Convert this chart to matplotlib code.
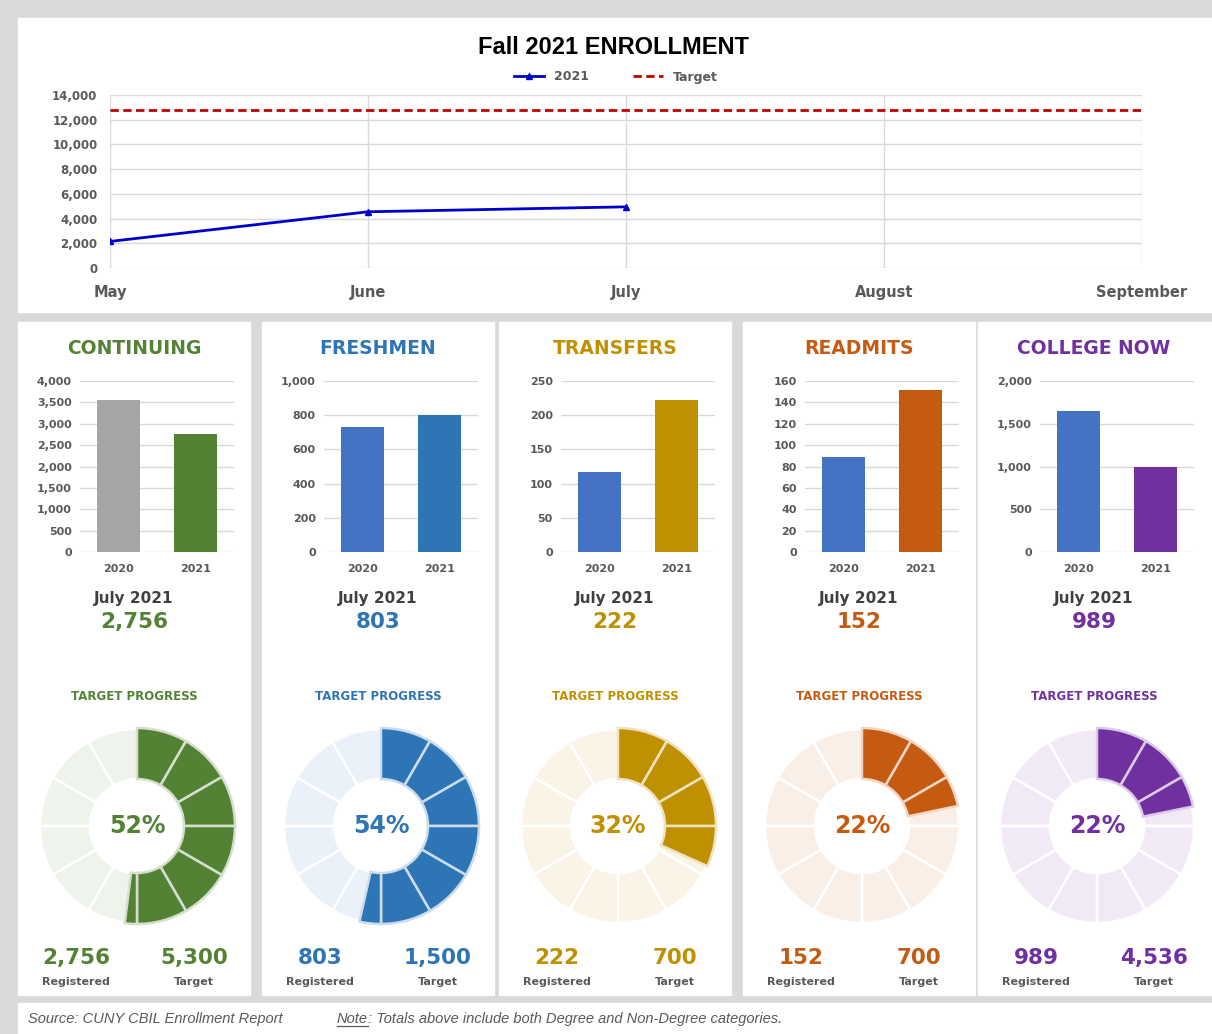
import matplotlib
matplotlib.use("Agg")
import matplotlib.pyplot as plt
import matplotlib.ticker as mticker
from matplotlib.patches import Rectangle
from matplotlib.lines import Line2D
from matplotlib.colors import to_rgb

# ── Data ───────────────────────────────────────────────────────────────────
months = ["May", "June", "July", "August", "September"]
enroll_2021 = [2150, 4550, 4950]
target_line = [12750, 12750, 12750, 12750, 12750]

groups = ["CONTINUING", "FRESHMEN", "TRANSFERS", "READMITS", "COLLEGE NOW"]
years = ["2020", "2021"]
val_2020 = [3560, 730, 117, 89, 1650]
val_2021 = [2756, 803, 222, 152, 989]
registered = [2756, 803, 222, 152, 989]
targets = [5300, 1500, 700, 700, 4536]
y_max = [4000, 1000, 250, 160, 2000]
y_step = [500, 200, 50, 20, 500]

main_col = ["#548235", "#2e75b6", "#bf9000", "#c55a11", "#7030a0"]
col_2020 = ["#a5a5a5", "#4472c4", "#4472c4", "#4472c4", "#4472c4"]

W, H = 1212, 1034
GRAY = "#d9d9d9"
DARK = "#404040"
TICK = "#595959"
SANS = "Liberation Sans"
WIDE = "DejaVu Sans"

fig = plt.figure(figsize=(W / 100, H / 100), dpi=100)
fig.patch.set_facecolor(GRAY)


def fx(px):
    return px / W


def fy(py):
    return 1 - py / H


def faded(c, k=0.1):
    r, g, b = to_rgb(c)
    return (1 - k * (1 - r), 1 - k * (1 - g), 1 - k * (1 - b))


commas = mticker.FuncFormatter(lambda v, _: f"{v:,.0f}")

# ── Background panels ─────────────────────────────────────────────────────
bg = fig.add_axes([0, 0, 1, 1], zorder=0)
bg.set_xlim(0, W)
bg.set_ylim(H, 0)
bg.axis("off")
bg.add_patch(Rectangle((18, 18), W - 18, 294, color="white"))
panel_left = [18, 262, 499, 743, 978]
panel_w = 232
for pl in panel_left:
    bg.add_patch(Rectangle((pl, 322), panel_w if pl < 978 else W - pl, 673, color="white"))
bg.add_patch(Rectangle((18, 1003), W - 18, 40, color="white"))

# ── Top line chart ────────────────────────────────────────────────────────
fig.text(fx(614), fy(47), "Fall 2021 ENROLLMENT", ha="center", va="center",
         fontsize=17, fontweight="bold", family=SANS, color="black")

ax = fig.add_axes([fx(110), fy(268), fx(1142) - fx(110), (268 - 95) / H], zorder=1)
ax.set_facecolor("none")
ax.plot(range(len(enroll_2021)), enroll_2021, color="#0000cc", lw=2,
        marker="^", ms=4, label="2021")
ax.plot(range(len(target_line)), target_line, color="#c00000", lw=2,
        ls=(0, (3, 1.6)), label="Target")
ax.set_xlim(0, len(months) - 1)
ax.set_ylim(0, 14000)
ax.set_xticks(range(len(months)))
ax.set_xticklabels(months)
ax.set_yticks(range(0, 14001, 2000))
ax.yaxis.set_major_formatter(commas)
ax.grid(True, color=GRAY, lw=1)
ax.set_axisbelow(True)
for s in ax.spines.values():
    s.set_visible(False)
ax.tick_params(axis="x", length=0, pad=12, labelsize=10.5, labelcolor=TICK)
ax.tick_params(axis="y", length=0, pad=9, labelsize=8.5, labelcolor=TICK)
for lbl in ax.get_xticklabels() + ax.get_yticklabels():
    lbl.set_fontweight("bold")
    lbl.set_family(WIDE)
leg = fig.legend(loc="center", bbox_to_anchor=(fx(616), fy(77)), ncol=2,
                 frameon=False, handlelength=2.4, columnspacing=3.5,
                 prop={"family": WIDE, "weight": "bold", "size": 9})
for t in leg.get_texts():
    t.set_color(TICK)

# ── Category panels ───────────────────────────────────────────────────────
for i, name in enumerate(groups):
    pl = panel_left[i]
    pc = pl + panel_w / 2
    c = main_col[i]

    fig.text(fx(pc), fy(349), name, ha="center", va="center", fontsize=13.5,
             fontweight="bold", family=WIDE, color=c)

    bx = fig.add_axes([fx(pl + 62), fy(552), (216 - 62) / W, (552 - 381) / H], zorder=1)
    bx.set_facecolor("none")
    bx.bar([0, 1], [val_2020[i], val_2021[i]], width=0.56,
           color=[col_2020[i], c])
    bx.set_xlim(-0.5, 1.5)
    bx.set_ylim(0, y_max[i])
    bx.set_yticks(range(0, y_max[i] + 1, y_step[i]))
    bx.yaxis.set_major_formatter(commas)
    bx.set_xticks([0, 1])
    bx.set_xticklabels(years)
    bx.grid(axis="y", color=GRAY, lw=1)
    bx.set_axisbelow(True)
    for s in bx.spines.values():
        s.set_visible(False)
    bx.tick_params(length=0, labelsize=8, labelcolor=TICK)
    bx.tick_params(axis="x", pad=9)
    bx.tick_params(axis="y", pad=6)
    for lbl in bx.get_xticklabels() + bx.get_yticklabels():
        lbl.set_fontweight("bold")
        lbl.set_family(WIDE)

    fig.text(fx(pc), fy(598), "July 2021", ha="center", va="center", fontsize=11,
             fontweight="bold", family=WIDE, color=DARK)
    fig.text(fx(pc), fy(622), f"{registered[i]:,}", ha="center", va="center",
             fontsize=15.5, fontweight="bold", family=WIDE, color=c)

    fig.text(fx(pc), fy(697), "TARGET PROGRESS", ha="center", va="center",
             fontsize=8.5, fontweight="bold", family=WIDE, color=c)

    # donut: 12 faded segments, progress drawn clockwise from the top
    cx, cy, r = pc + 3, 826, 100
    dx = fig.add_axes([fx(cx - r), fy(cy + r), 2 * r / W, 2 * r / H], zorder=1)
    dx.set_facecolor("none")
    dx.pie([1] * 12, colors=[faded(c)] * 12, startangle=90, counterclock=False,
           radius=0.97, wedgeprops=dict(width=0.5, edgecolor="white", lw=1.8))
    prog = registered[i] / targets[i]
    filled = prog * 12
    segs, cols = [], []
    n_full = int(filled)
    for k in range(n_full):
        segs.append(1)
        cols.append(c)
    if filled - n_full > 0:
        segs.append(filled - n_full)
        cols.append(c)
    segs.append(12 - filled)
    cols.append("none")
    wedges, _ = dx.pie(segs, colors=cols, startangle=90, counterclock=False,
                       radius=0.98, wedgeprops=dict(width=0.51, edgecolor=faded(c, 0.25), lw=1.8))
    wedges[-1].set_edgecolor("none")
    dx.set_xlim(-1, 1)
    dx.set_ylim(-1, 1)
    dx.set_aspect("equal")
    dx.axis("off")
    dx.text(0, 0, f"{prog:.0%}", ha="center", va="center", fontsize=17,
            fontweight="bold", family=WIDE, color=c)

    fig.text(fx(pl + 58), fy(958), f"{registered[i]:,}", ha="center", va="center",
             fontsize=15.5, fontweight="bold", family=WIDE, color=c)
    fig.text(fx(pl + 176), fy(958), f"{targets[i]:,}", ha="center", va="center",
             fontsize=15.5, fontweight="bold", family=WIDE, color=c)
    fig.text(fx(pl + 58), fy(982), "Registered", ha="center", va="center",
             fontsize=8, fontweight="bold", family=WIDE, color=TICK)
    fig.text(fx(pl + 176), fy(982), "Target", ha="center", va="center",
             fontsize=8, fontweight="bold", family=WIDE, color=TICK)

# ── Footer ────────────────────────────────────────────────────────────────
fig.text(fx(28), fy(1019), "Source: CUNY CBIL Enrollment Report", ha="left", va="center",
         fontsize=10.5, style="italic", family=SANS, color=TICK)
note = fig.text(fx(337), fy(1019), "Note", ha="left", va="center",
                fontsize=10.5, style="italic", family=SANS, color=TICK)
fig.canvas.draw()
bb = note.get_window_extent()
fig.text(bb.x1 / W, fy(1019), ": Totals above include both Degree and Non-Degree categories.",
         ha="left", va="center", fontsize=10.5, style="italic", family=SANS, color=TICK)
fig.add_artist(Line2D([bb.x0 / W, bb.x1 / W], [(bb.y0 + 0.5) / H] * 2,
                      color=TICK, lw=0.9))

fig.savefig("out.png", dpi=100, facecolor=fig.get_facecolor())
